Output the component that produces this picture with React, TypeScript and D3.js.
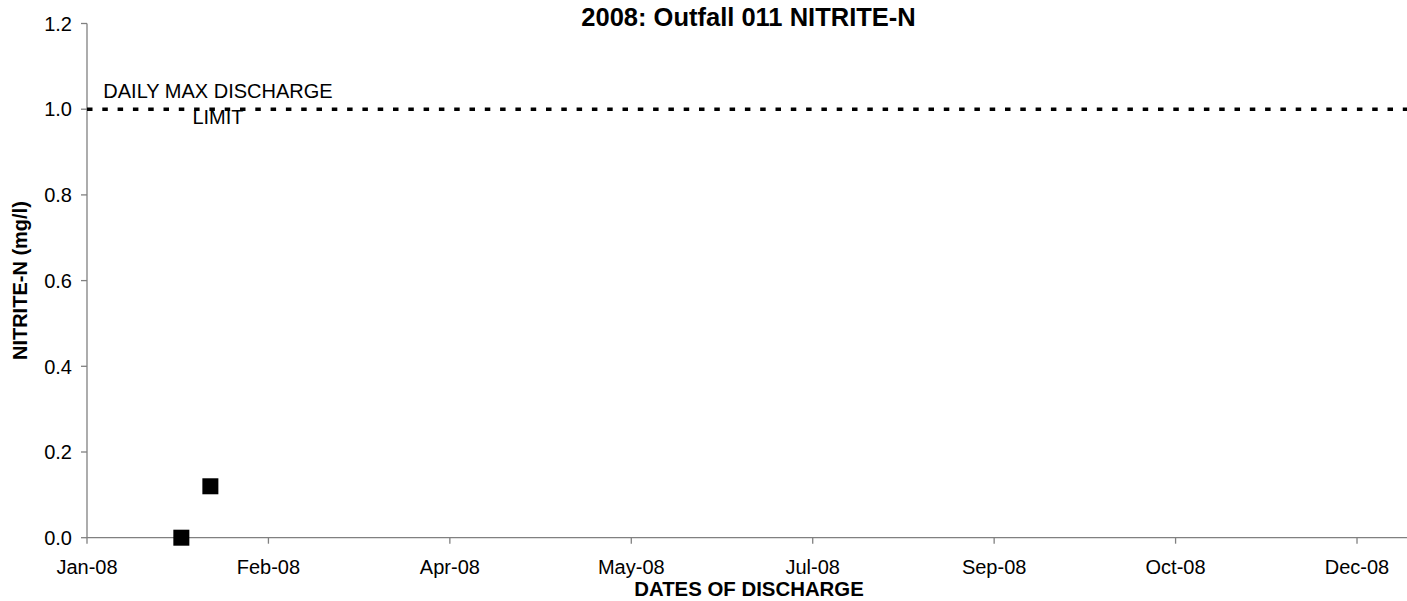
import React from "react";
import * as d3 from "d3";

const sampleDates = ["2008-01-27", "2008-02-04"];
const sampleValues = [0.0, 0.12];
const limitValue = 1.0;
const limitLabelLines = ["DAILY MAX DISCHARGE", "LIMIT"];
const yTicks = [0, 0.2, 0.4, 0.6, 0.8, 1.0, 1.2];
const xStart = "2008-01-01";
const xEnd = "2008-12-31";
const xTickStepDays = 50;
const xTickCount = 8;

const W = 1407;
const H = 601;
const FONT = "'Liberation Sans', Arial, Helvetica, sans-serif";

export default function App() {
  const parse = d3.utcParse("%Y-%m-%d");
  const d0 = parse(xStart) as Date;
  const d1 = parse(xEnd) as Date;
  const left = 87;
  const pxPerDay = 181.43 / xTickStepDays;
  const days = d3.utcDay.count(d0, d1);
  const x = d3.scaleUtc().domain([d0, d1]).range([left, left + days * pxPerDay]);
  const y = d3.scaleLinear().domain([0, 1.2]).range([537.7, 23.5]);
  const fmt = d3.utcFormat("%b-%y");
  const xTicks = d3.range(xTickCount).map((k) => d3.utcDay.offset(d0, k * xTickStepDays));
  const axisColor = "#808080";
  const x0 = x(d0);
  const yBase = y(0);

  return (
    <svg
      width={W}
      height={H}
      style={{ position: "absolute", left: 0, top: 0, background: "#fff" }}
      fontFamily={FONT}
    >
      <rect x={0} y={0} width={W} height={H} fill="#fff" />
      {/* title */}
      <text x={748.5} y={26} textAnchor="middle" fontWeight="bold" fontSize={25.5} fill="#000">
        2008: Outfall 011 NITRITE-N
      </text>
      {/* y axis */}
      <line x1={x0} x2={x0} y1={y(1.2)} y2={yBase} stroke={axisColor} strokeWidth={1.3} />
      {yTicks.map((t) => (
        <g key={t}>
          <line x1={x0 - 6} x2={x0} y1={y(t)} y2={y(t)} stroke={axisColor} strokeWidth={1.3} />
          <text x={72} y={y(t)} dy="0.36em" textAnchor="end" fontSize={20} fill="#000">
            {d3.format(".1f")(t)}
          </text>
        </g>
      ))}
      {/* x axis */}
      <line x1={x0} x2={W} y1={yBase} y2={yBase} stroke={axisColor} strokeWidth={1.3} />
      {xTicks.map((t, i) => (
        <g key={i}>
          <line x1={x(t)} x2={x(t)} y1={yBase} y2={yBase + 6} stroke={axisColor} strokeWidth={1.3} />
          <text x={x(t)} y={573.5} textAnchor="middle" fontSize={20} fill="#000">
            {fmt(t)}
          </text>
        </g>
      ))}
      {/* axis titles */}
      <text x={749} y={596} textAnchor="middle" fontWeight="bold" fontSize={20.4} fill="#000">
        DATES OF DISCHARGE
      </text>
      <text
        transform={`translate(27,${(y(1.2) + yBase) / 2}) rotate(-90)`}
        textAnchor="middle"
        fontWeight="bold"
        fontSize={20}
        fill="#000"
      >
        NITRITE-N (mg/l)
      </text>
      {/* limit line */}
      <line
        x1={x0}
        x2={W}
        y1={y(limitValue)}
        y2={y(limitValue)}
        stroke="#000"
        strokeWidth={3.5}
        strokeDasharray="5.5 9.8"
      />
      {limitLabelLines.map((s, i) => (
        <text key={i} x={218} y={98 + i * 26} textAnchor="middle" fontSize={20} fill="#000">
          {s}
        </text>
      ))}
      {/* data points */}
      {sampleDates.map((ds, i) => {
        const cx = x(parse(ds) as Date);
        const cy = y(sampleValues[i]);
        return <rect key={ds} x={cx - 8} y={cy - 8} width={16} height={16} fill="#000" />;
      })}
    </svg>
  );
}
